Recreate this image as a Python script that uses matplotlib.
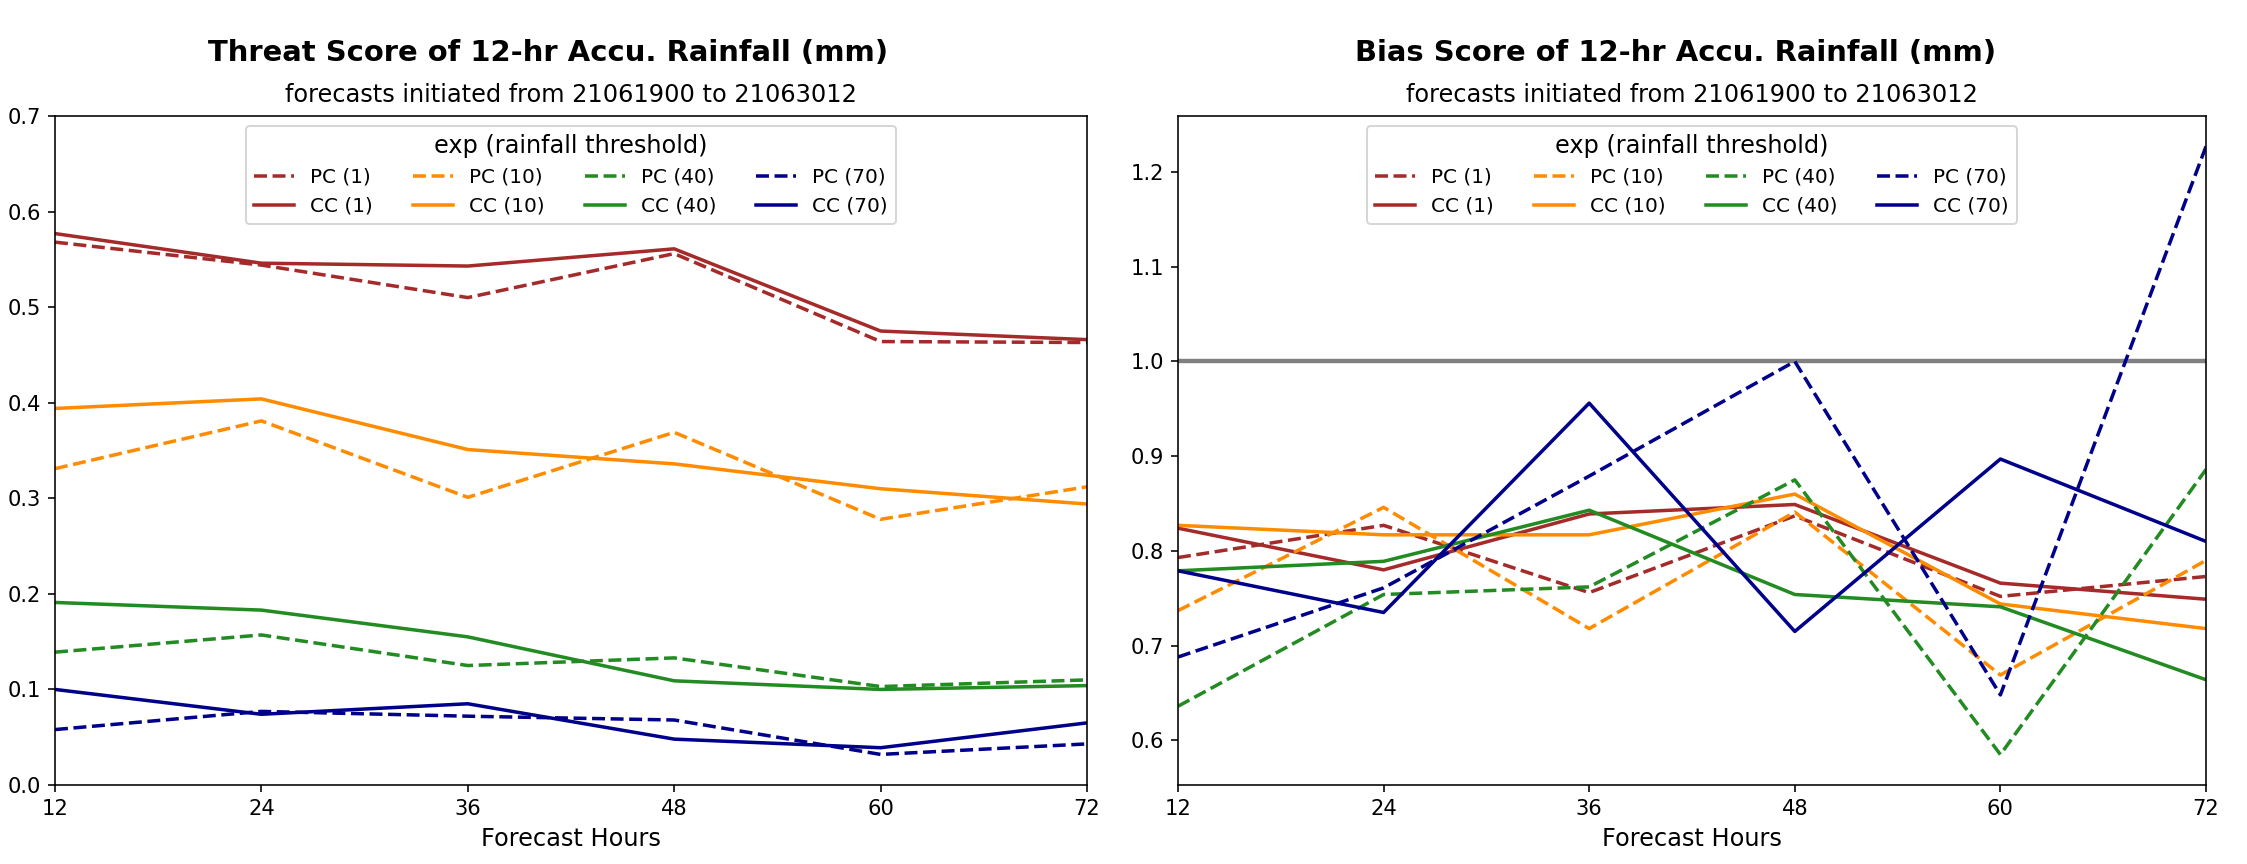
import matplotlib
matplotlib.use("Agg")
import matplotlib.pyplot as plt

hours = [12, 24, 36, 48, 60, 72]
thresholds = [1, 10, 40, 70]
colors = ["brown", "darkorange", "forestgreen", "darkblue"]

# Threat score
ts_pc_1 = [0.568, 0.544, 0.510, 0.556, 0.464, 0.463]
ts_cc_1 = [0.577, 0.546, 0.543, 0.561, 0.475, 0.466]
ts_pc_10 = [0.331, 0.381, 0.301, 0.369, 0.278, 0.312]
ts_cc_10 = [0.394, 0.404, 0.351, 0.336, 0.310, 0.294]
ts_pc_40 = [0.139, 0.157, 0.125, 0.133, 0.103, 0.110]
ts_cc_40 = [0.191, 0.183, 0.155, 0.109, 0.100, 0.104]
ts_pc_70 = [0.058, 0.077, 0.072, 0.068, 0.032, 0.043]
ts_cc_70 = [0.100, 0.074, 0.085, 0.048, 0.039, 0.065]

# Bias score
bs_pc_1 = [0.793, 0.827, 0.756, 0.837, 0.752, 0.773]
bs_cc_1 = [0.824, 0.780, 0.839, 0.849, 0.766, 0.749]
bs_pc_10 = [0.737, 0.846, 0.718, 0.841, 0.669, 0.790]
bs_cc_10 = [0.827, 0.817, 0.817, 0.860, 0.744, 0.718]
bs_pc_40 = [0.636, 0.754, 0.762, 0.875, 0.585, 0.886]
bs_cc_40 = [0.779, 0.789, 0.843, 0.754, 0.741, 0.664]
bs_pc_70 = [0.688, 0.761, 0.879, 1.000, 0.648, 1.227]
bs_cc_70 = [0.779, 0.735, 0.956, 0.715, 0.897, 0.810]

ts_pc = [ts_pc_1, ts_pc_10, ts_pc_40, ts_pc_70]
ts_cc = [ts_cc_1, ts_cc_10, ts_cc_40, ts_cc_70]
bs_pc = [bs_pc_1, bs_pc_10, bs_pc_40, bs_pc_70]
bs_cc = [bs_cc_1, bs_cc_10, bs_cc_40, bs_cc_70]

title_ts = "Threat Score of 12-hr Accu. Rainfall (mm)"
title_bs = "Bias Score of 12-hr Accu. Rainfall (mm)"
subtitle = "forecasts initiated from 21061900 to 21063012"
xlabel = "Forecast Hours"
legend_title = "exp (rainfall threshold)"

W, H, DPI = 2247, 864, 144
fig = plt.figure(figsize=(W / DPI, H / DPI), dpi=DPI)
ax1 = fig.add_axes([55 / W, 1 - 785 / H, 1032 / W, 669 / H])
ax2 = fig.add_axes([1178 / W, 1 - 785 / H, 1028 / W, 669 / H])


def draw(ax, pc, cc, title, tx):
    for c, thr, p, q in zip(colors, thresholds, pc, cc):
        ax.plot(hours, p, color=c, ls="--", lw=1.75, label=f"PC ({thr})")
        ax.plot(hours, q, color=c, ls="-", lw=1.75, label=f"CC ({thr})")
    ax.set_xlim(12, 72)
    ax.set_xticks(hours)
    ax.tick_params(labelsize=10.5)
    ax.set_xlabel(xlabel, fontsize=12)
    ax.text(tx, 1.094, title, transform=ax.transAxes, ha="center", va="center",
            fontsize=14.5, fontweight="bold")
    ax.text(0.5, 1.031, subtitle, transform=ax.transAxes, ha="center", va="center",
            fontsize=12)
    ax.legend(ncol=4, loc="upper center", fontsize=10,
              title=legend_title, title_fontsize=12)


draw(ax1, ts_pc, ts_cc, title_ts, 0.478)
ax1.set_ylim(0, 0.7)

draw(ax2, bs_pc, bs_cc, title_bs, 0.484)
ax2.axhline(1.0, color="gray", lw=2.2, zorder=1)

fig.savefig("out.png", dpi=DPI)
